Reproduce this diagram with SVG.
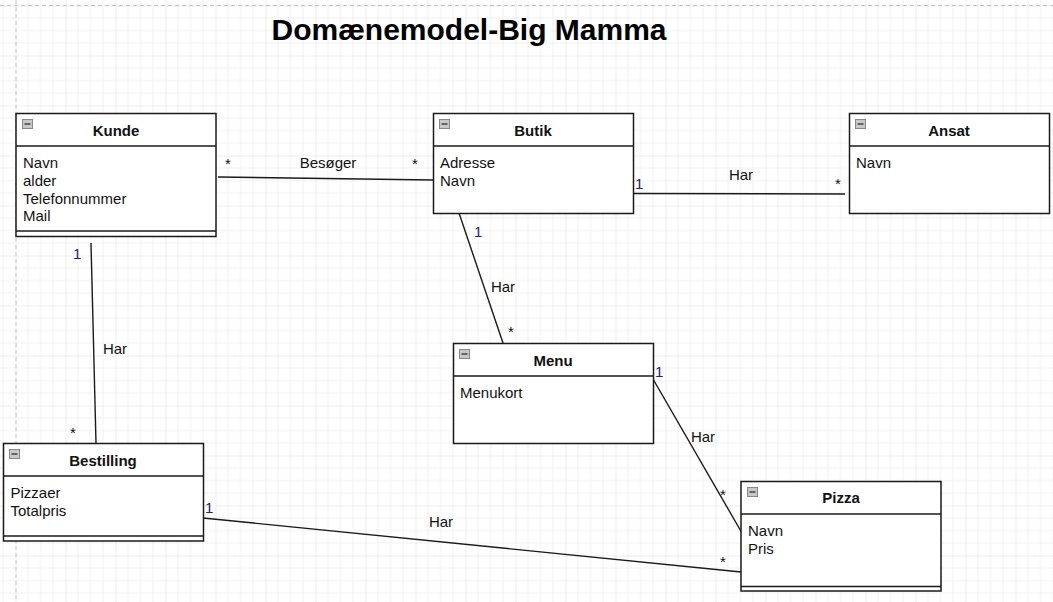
<svg xmlns="http://www.w3.org/2000/svg" width="1053" height="602" viewBox="0 0 1053 602">
<defs>
<pattern id="grid" patternUnits="userSpaceOnUse" x="15.5" y="5.5" width="50" height="50">
<path d="M12.5 0V50M25 0V50M37.5 0V50M0 12.5H50M0 25H50M0 37.5H50" stroke="#f0f0f0" stroke-width="1" fill="none"/>
<path d="M0 0V50M0 0H50" stroke="#dedede" stroke-width="1" fill="none"/>
</pattern>
<g id="icon">
<rect x="0.5" y="0.5" width="10" height="9" fill="#c8c8c8" stroke="#888" stroke-width="1"/>
<line x1="2.5" y1="5" x2="8.5" y2="5" stroke="#444" stroke-width="1.5"/>
</g>
</defs>
<style>
text{font-family:"Liberation Sans",Arial,Helvetica,sans-serif;font-size:15px;fill:#111}
.t{font-weight:bold;text-anchor:middle}
.h{font-weight:bold;font-size:30px;text-anchor:middle;fill:#000}
.box{fill:#fff;stroke:#1a1a1a;stroke-width:1.5}
.sep{stroke:#1a1a1a;stroke-width:1.5}
.c line{stroke:#1a1a1a;stroke-width:1.4}
.lab{text-anchor:middle}
.one{fill:#20207a}
</style>
<rect width="1053" height="602" fill="#fff"/>
<rect width="1053" height="602" fill="url(#grid)"/>
<line x1="16" y1="0" x2="16" y2="602" stroke="#c4c4c4" stroke-width="1" stroke-dasharray="4,3"/>
<line x1="0" y1="5.5" x2="1053" y2="5.5" stroke="#c4c4c4" stroke-width="1" stroke-dasharray="4,3"/>

<text class="h" x="469" y="40">Domænemodel-Big Mamma</text>

<g id="connectors" class="c">
<line x1="218" y1="177" x2="433" y2="180"/>
<line x1="633" y1="193.5" x2="845" y2="194"/>
<line x1="91" y1="243" x2="96" y2="443"/>
<line x1="459" y1="213" x2="503" y2="343"/>
<line x1="653" y1="379" x2="742" y2="533"/>
<line x1="203" y1="518" x2="741" y2="572"/>
<text x="225" y="169">*</text>
<text x="412" y="169">*</text>
<text class="lab" x="328" y="168">Besøger</text>
<text class="one" x="635" y="188.5">1</text>
<text x="835" y="189">*</text>
<text class="lab" x="741" y="180">Har</text>
<text class="one" x="73" y="259">1</text>
<text x="70" y="438">*</text>
<text class="lab" x="115" y="354">Har</text>
<text class="one" x="474" y="237">1</text>
<text x="508" y="337">*</text>
<text class="lab" x="503" y="292">Har</text>
<text class="one" x="655" y="377">1</text>
<text x="720" y="500">*</text>
<text class="lab" x="703" y="442">Har</text>
<text class="one" x="205" y="513">1</text>
<text x="720" y="567">*</text>
<text class="lab" x="441" y="527">Har</text>
</g>

<g id="kunde">
<rect class="box" x="16" y="113.5" width="200" height="123"/>
<line class="sep" x1="16" y1="146" x2="216" y2="146"/>
<line class="sep" x1="16" y1="231" x2="216" y2="231"/>
<use href="#icon" x="22" y="119"/>
<text class="t" x="116" y="136">Kunde</text>
<text x="23" y="168">Navn</text>
<text x="23" y="186">alder</text>
<text x="23" y="203.5">Telefonnummer</text>
<text x="23" y="221">Mail</text>
</g>

<g id="butik">
<rect class="box" x="433.5" y="113.5" width="200" height="100"/>
<line class="sep" x1="433.5" y1="146" x2="633.5" y2="146"/>
<use href="#icon" x="439" y="119"/>
<text class="t" x="533" y="136">Butik</text>
<text x="440" y="168">Adresse</text>
<text x="440" y="186">Navn</text>
</g>

<g id="ansat">
<rect class="box" x="849.5" y="113.5" width="200" height="100"/>
<line class="sep" x1="849.5" y1="146" x2="1049.5" y2="146"/>
<use href="#icon" x="855" y="119"/>
<text class="t" x="949" y="136">Ansat</text>
<text x="856" y="168">Navn</text>
</g>

<g id="menu">
<rect class="box" x="453.5" y="343.5" width="200" height="100"/>
<line class="sep" x1="453.5" y1="376" x2="653.5" y2="376"/>
<use href="#icon" x="459" y="349"/>
<text class="t" x="553" y="366">Menu</text>
<text x="460" y="398">Menukort</text>
</g>

<g id="bestilling">
<rect class="box" x="3.5" y="443.5" width="200" height="97.5"/>
<line class="sep" x1="3.5" y1="476" x2="203.5" y2="476"/>
<line class="sep" x1="3.5" y1="536" x2="203.5" y2="536"/>
<use href="#icon" x="9" y="449"/>
<text class="t" x="103" y="466">Bestilling</text>
<text x="10.5" y="498">Pizzaer</text>
<text x="10.5" y="516">Totalpris</text>
</g>

<g id="pizza">
<rect class="box" x="741" y="481.5" width="200" height="109.5"/>
<line class="sep" x1="741" y1="514" x2="941" y2="514"/>
<line class="sep" x1="741" y1="586.5" x2="941" y2="586.5"/>
<use href="#icon" x="747" y="487"/>
<text class="t" x="841" y="503">Pizza</text>
<text x="748" y="536">Navn</text>
<text x="748" y="554">Pris</text>
</g>
</svg>
